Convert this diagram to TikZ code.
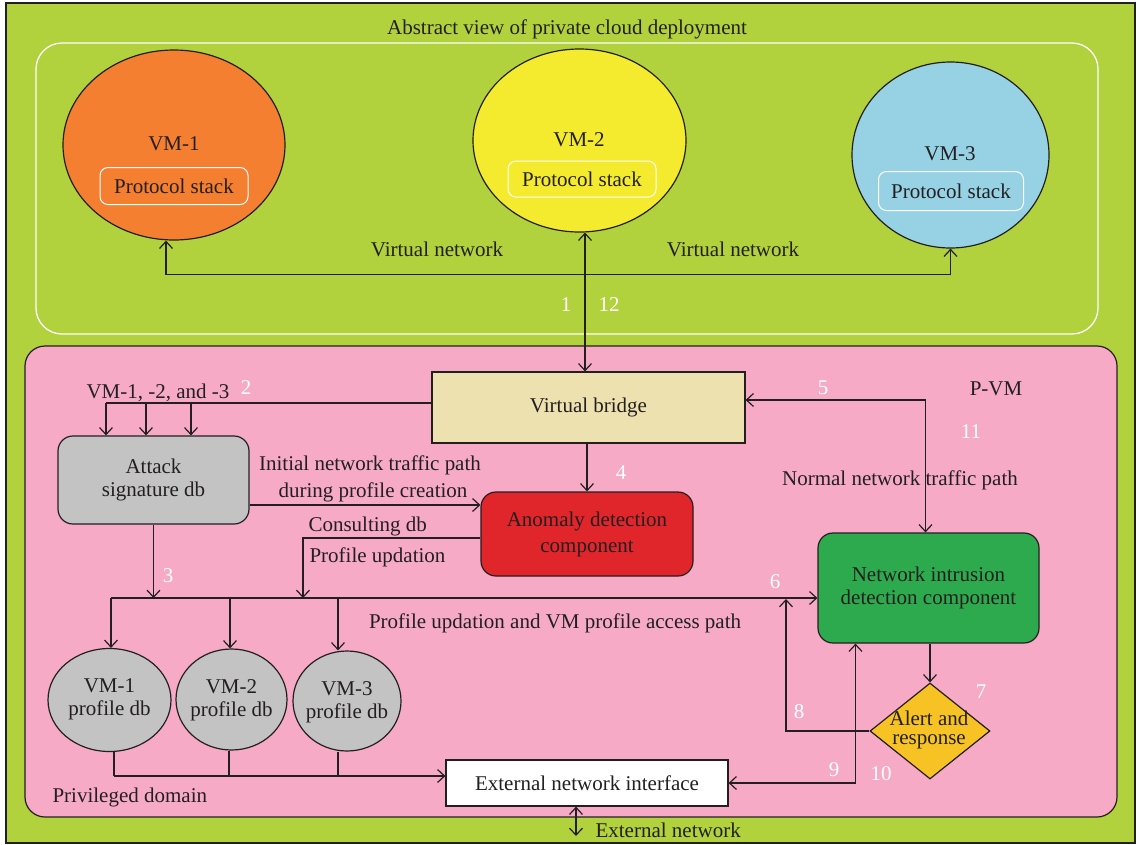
\documentclass[tikz,border=0pt]{standalone}
\usepackage{fontspec}
\setmainfont{Liberation Serif}
\usetikzlibrary{arrows.meta,shapes.geometric,calc}
\definecolor{bggreen}{RGB}{177,209,61}
\definecolor{pinkbg}{RGB}{246,170,198}
\definecolor{vmorange}{RGB}{244,127,49}
\definecolor{vmyellow}{RGB}{244,234,46}
\definecolor{vmblue}{RGB}{150,210,228}
\definecolor{dbgray}{RGB}{195,195,195}
\definecolor{bridge}{RGB}{236,225,175}
\definecolor{anored}{RGB}{224,38,43}
\definecolor{nidsgreen}{RGB}{45,170,77}
\definecolor{alertyel}{RGB}{247,194,35}
\definecolor{ink}{RGB}{35,31,32}
\begin{document}
\begin{tikzpicture}[x=1pt,y=-1pt,
  every node/.style={font=\fontsize{21}{23}\selectfont, text=ink},
  ln/.style={draw=ink, line width=1.2pt},
  arr/.style={ln, -{Straight Barb[length=7pt,width=13pt]}},
  darr/.style={ln, {Straight Barb[length=7pt,width=13pt]}-{Straight Barb[length=7pt,width=13pt]}},
  num/.style={text=white, anchor=base},
  lbl/.style={anchor=base},
  lblw/.style={anchor=base west},
  box/.style={draw=ink, line width=1.2pt, inner sep=0pt, align=center},
  rbox/.style={box, rounded corners=15pt},
  vmell/.style={ellipse, draw=ink, line width=1.2pt, inner sep=0pt},
  pstack/.style={draw=white, line width=1pt, rounded corners=8pt, inner sep=0pt},
]
\useasboundingbox (0,0) rectangle (1136,844);
\fill[white] (0,0) rectangle (1136,844);
\node[draw=ink, line width=1.2pt, fill=bggreen, minimum width=1129pt, minimum height=840pt, inner sep=0pt] (frame) at (570.5,423) {};

% ---- cloud view ----
\node[lbl] (title) at (567,34) {Abstract view of private cloud deployment};
\node[draw=white, line width=1.3pt, rounded corners=26pt, minimum width=1062pt, minimum height=291pt, inner sep=0pt] (cloud) at (567,188.5) {};

\node[vmell, fill=vmorange, minimum width=222pt, minimum height=190pt] (vm1) at (174,145) {};
\node[lbl] (vm1t) at (174,150) {VM-1};
\node[pstack, minimum width=148pt, minimum height=37pt] (ps1) at (174,186) {Protocol stack};

\node[vmell, fill=vmyellow, minimum width=213pt, minimum height=183pt] (vm2) at (579.5,140.5) {};
\node[lbl] (vm2t) at (579,146) {VM-2};
\node[pstack, minimum width=148pt, minimum height=36pt] (ps2) at (582,179) {Protocol stack};

\node[vmell, fill=vmblue, minimum width=197pt, minimum height=186pt] (vm3) at (950.5,155) {};
\node[lbl] (vm3t) at (950,160) {VM-3};
\node[pstack, minimum width=145pt, minimum height=39pt] (ps3) at (951,191) {Protocol stack};

\node[lbl] (vn1) at (437,256) {Virtual network};
\node[lbl] (vn2) at (733,256) {Virtual network};

\draw[darr] ([xshift=-8pt]vm1.south) -- ++(0,34) -| (vm3.south);

\node[num] (n1) at (566,311.7) {1};
\node[num] (n12) at (609,311.7) {12};

% ---- P-VM ----
\node[draw=ink, line width=1.2pt, fill=pinkbg, rounded corners=20pt, minimum width=1092pt, minimum height=471pt, inner sep=0pt] (pvm) at (571,581.5) {};

\node[box, fill=bridge, minimum width=313pt, minimum height=71pt] (vb) at (588.5,407.5) {Virtual bridge};
\node[rbox, fill=dbgray, minimum width=191pt, minimum height=88pt] (att) at (153.5,480) {Attack\\signature db};
\node[rbox, fill=anored, minimum width=212pt, minimum height=84pt, font=\fontsize{21}{26}\selectfont] (ano) at (587,534) {Anomaly detection\\component};
\node[rbox, fill=nidsgreen, minimum width=221pt, minimum height=110pt] (nids) at (928.5,588) {Network intrusion\\detection component};
\node[diamond, draw=ink, line width=1.2pt, fill=alertyel, minimum width=120pt, minimum height=96pt, inner sep=0pt] (alert) at (930,731) {};
\node[align=center, font=\fontsize{21}{19.5}\selectfont] (alertt) at (929,730) {Alert and\\response};
\node[box, fill=white, minimum width=282pt, minimum height=46pt] (ext) at (587,783) {External network interface};

\node[vmell, fill=dbgray, minimum width=123pt, minimum height=103pt] (p1) at (109.5,700) {};
\node[align=center] (p1t) at (109.5,699) {VM-1\\profile db};
\node[vmell, fill=dbgray, minimum width=111pt, minimum height=101pt] (p2) at (231.5,699.5) {};
\node[align=center] (p2t) at (231.5,700) {VM-2\\profile db};
\node[vmell, fill=dbgray, minimum width=108pt, minimum height=100pt] (p3) at (347,701) {};
\node[align=center] (p3t) at (347,702) {VM-3\\profile db};

% VM-2 <-> virtual bridge
\coordinate (c585) at (585,0);
\draw[darr] (vm2.south -| c585) -- (vb.north -| c585);

% virtual bridge -> attack signature db
\coordinate (d1) at (106,403);
\coordinate (d2) at (146,403);
\coordinate (d3) at (191,403);
\draw[ln] ($(vb.west)+(0,-4.5)$) -- (d1);
\foreach \d in {d1,d2,d3} \draw[arr] (\d) -- (att.north -| \d);
\node[lblw] (vml) at (83,398) {VM-1, -2, and -3};
\node[num] (n2) at (246,394) {2};

% attack -> anomaly
\draw[arr] ($(att.east)+(0,25)$) coordinate (a1) -- (ano.west |- a1);
\node[lbl] (initl) at (370,470) {Initial network traffic path};
\node[lbl] (durl) at (373,497) {during profile creation};

% bridge -> anomaly
\draw[arr] (vb.south -| ano.north) -- (ano.north);
\node[num] (n4) at (621,479) {4};

% bus
\coordinate (h1) at (111,598);
\coordinate (h2) at (303,598);
\draw[arr] ($(ano.west)+(0,4)$) -| (h2);
\node[lblw] (consl) at (305,531) {Consulting db};
\node[lblw] (pupl) at (306,562) {Profile updation};
\draw[arr] (att.south) -- (att.south |- h1);
\node[num] (n3) at (168,582) {3};
\draw[arr] (h1) -- (nids.west |- h1);
\coordinate (h3) at (230,598);
\coordinate (h4) at (338,598);
\draw[arr] (h1) -- (p1.north -| h1);
\draw[arr] (h3) -- (p2.north -| h3);
\draw[arr] (h4) -- (p3.north -| h4);
\node[lblw] (pual) at (365.5,628) {Profile updation and VM profile access path};
\node[num] (n6) at (775,588) {6};

% profile dbs -> external network interface
\coordinate (b1) at (114,776);
\coordinate (b2) at (229,776);
\coordinate (b3) at (338,776);
\draw[ln] (p1.south -| b1) -- (b1);
\draw[ln] (p2.south -| b2) -- (b2);
\draw[ln] (p3.south -| b3) -- (b3);
\draw[arr] (b1) -- (ext.west |- b1);
\node[lblw] (privl) at (49,802) {Privileged domain};

% external network
\coordinate (extnet) at (576,836);
\draw[darr] (ext.south -| extnet) -- (extnet);
\node[lblw] (extl) at (592,837) {External network};

% bridge <-> NIDS
\draw[darr] ($(vb.east)+(0,-7.5)$) -| ($(nids.north)+(-3,0)$);
\node[num] (n5) at (823,394) {5};
\node[lbl] (pvml) at (996,395) {P-VM};
\node[num] (n11) at (971,438) {11};
\node[lbl] (norml) at (900,485) {Normal network traffic path};

% NIDS -> alert
\draw[arr] (nids.south -| alert.north) -- (alert.north);
\node[num] (n7) at (981,698) {7};

% alert -> bus
\coordinate (h8) at (786,599);
\draw[arr] (alert.west) -| (h8);
\node[num] (n8) at (799,718) {8};

% NIDS <-> external interface
\draw[darr] (ext.east) -| ($(nids.south)+(-73,0)$);
\node[num] (n9) at (834,776) {9};
\node[num] (n10) at (881,780) {10};
\end{tikzpicture}
\end{document}
